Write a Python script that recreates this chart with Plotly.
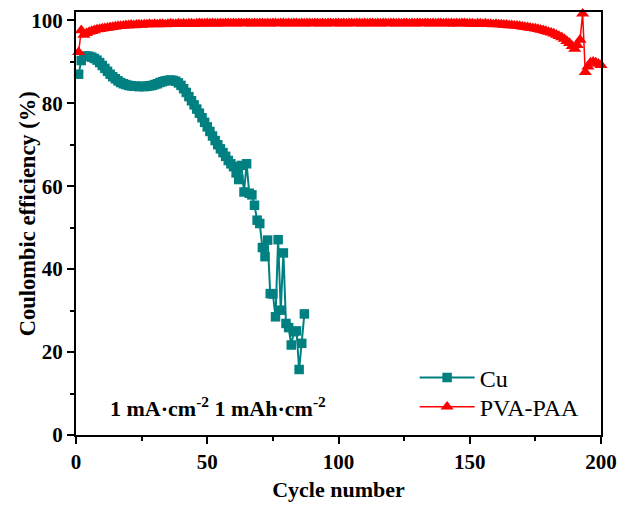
import plotly.graph_objects as go

# ---- data ----
cu_cycles = list(range(1, 88))
cu_ce = [
    87.0, 90.3, 91.3, 91.4, 91.3, 91.1, 90.8, 90.4, 89.8, 89.1,
    88.4, 87.7, 87.0, 86.4, 85.9, 85.4, 85.0, 84.7, 84.5, 84.3,
    84.2, 84.1, 84.1, 84.0, 84.1, 84.0, 84.1, 84.2, 84.3, 84.5,
    84.7, 85.0, 85.2, 85.4, 85.5, 85.6, 85.5, 85.3, 84.9, 84.3,
    83.5, 82.6, 81.6, 80.6, 79.6, 78.6, 77.6, 76.5, 75.4, 74.3,
    73.2, 72.1, 71.0, 70.0, 69.0, 68.1, 67.2, 66.2, 65.4, 64.7,
    63.2, 61.6, 65.0, 58.6, 65.4, 58.3, 57.9, 55.4, 51.8, 51.0,
    45.2, 43.0, 47.0, 34.1, 34.0, 28.5, 47.1, 30.1, 43.9, 26.9,
    25.9, 21.7, 24.9, 25.1, 15.8, 22.1, 29.2,
]

pva_cycles = list(range(1, 201))
pva_ce = [
    92.3, 97.6, 96.5, 96.9, 97.2, 97.4, 97.6, 97.8, 97.9, 98.0,
    98.1, 98.2, 98.3, 98.4, 98.5, 98.6, 98.6, 98.7, 98.8, 98.8,
    98.9, 98.8, 98.9, 99.0, 98.9, 99.0, 99.0, 99.1, 99.0, 99.1,
    99.0, 99.1, 99.1, 99.0, 99.1, 99.2, 99.1, 99.1, 99.2, 99.1,
    99.2, 99.1, 99.2, 99.2, 99.1, 99.2, 99.3, 99.2, 99.2, 99.3,
    99.2, 99.3, 99.2, 99.2, 99.3, 99.2, 99.3, 99.3, 99.2, 99.3,
    99.2, 99.3, 99.3, 99.2, 99.3, 99.3, 99.2, 99.3, 99.2, 99.3,
    99.3, 99.2, 99.3, 99.2, 99.3, 99.3, 99.2, 99.3, 99.3, 99.2,
    99.3, 99.2, 99.3, 99.3, 99.2, 99.3, 99.2, 99.3, 99.3, 99.2,
    99.3, 99.3, 99.2, 99.3, 99.2, 99.3, 99.3, 99.2, 99.3, 99.3,
    99.2, 99.3, 99.2, 99.3, 99.3, 99.2, 99.3, 99.3, 99.2, 99.3,
    99.2, 99.3, 99.3, 99.2, 99.3, 99.2, 99.3, 99.3, 99.2, 99.3,
    99.3, 99.2, 99.3, 99.2, 99.3, 99.3, 99.2, 99.3, 99.2, 99.3,
    99.3, 99.2, 99.3, 99.3, 99.2, 99.3, 99.2, 99.3, 99.3, 99.2,
    99.3, 99.2, 99.3, 99.2, 99.3, 99.2, 99.3, 99.3, 99.2, 99.2,
    99.2, 99.1, 99.2, 99.2, 99.1, 99.2, 99.1, 99.1, 99.0, 99.1,
    99.0, 99.0, 98.9, 98.9, 98.8, 98.8, 98.7, 98.7, 98.6, 98.5,
    98.4, 98.3, 98.2, 98.1, 98.0, 97.9, 97.7, 97.6, 97.4, 97.2,
    97.0, 96.8, 96.5, 96.2, 95.9, 95.5, 95.0, 94.5, 93.8, 93.1,
    94.0, 95.3, 101.6, 87.5, 88.8, 89.8, 90.0, 89.8, 89.5, 89.2,
]

x_ticks = [0, 50, 100, 150, 200]
y_ticks = [0, 20, 40, 60, 80, 100]

FONT = "Liberation Serif"
TEAL = "#008080"
RED = "#FF0000"

fig = go.Figure()
fig.add_trace(go.Scatter(
    x=cu_cycles, y=cu_ce, name="Cu", mode="lines+markers",
    line=dict(color=TEAL, width=2),
    marker=dict(symbol="square", size=9.5, color=TEAL, line=dict(width=0)),
    cliponaxis=False, legend="legend",
))
fig.add_trace(go.Scatter(
    x=pva_cycles, y=pva_ce, name="PVA-PAA", mode="lines+markers",
    line=dict(color=RED, width=1.5),
    marker=dict(symbol="triangle-up", size=11.5, color=RED, line=dict(width=0)),
    cliponaxis=False, legend="legend2",
))

axis_common = dict(
    showline=True, linecolor="black", linewidth=2, mirror=True,
    ticks="outside", ticklen=7, tickwidth=2, tickcolor="black",
    showgrid=False, zeroline=False, automargin=False,
    tickfont=dict(family=FONT, size=21, color="black", weight="bold"),
)

fig.update_xaxes(
    range=[0, 200], tickvals=x_ticks,
    minor=dict(ticks="outside", ticklen=4, tickwidth=2, tickcolor="black", dtick=25, tick0=0),
    title=dict(text="<b>Cycle number</b>", font=dict(family=FONT, size=22, color="black"), standoff=8),
    **axis_common,
)
fig.update_yaxes(
    range=[0, 102], tickvals=y_ticks,
    minor=dict(ticks="outside", ticklen=4, tickwidth=2, tickcolor="black", dtick=10, tick0=0),
    **axis_common,
)

# y-axis title placed as rotated text (sits closer to the axis than plotly's title)
fig.add_annotation(
    x=-0.0933, y=0.522, xref="paper", yref="paper",
    text="<b>Coulombic efficiency (%)</b>", textangle=-90,
    showarrow=False, font=dict(family=FONT, size=22.5, color="black"),
    xanchor="center", yanchor="middle",
)

fig.add_annotation(
    x=0.27, y=0.066, xref="paper", yref="paper",
    text="<b>1 mA·cm<sup>-2</sup> 1 mAh·cm<sup>-2</sup></b>",
    showarrow=False, font=dict(family=FONT, size=22, color="black"),
    xanchor="center", yanchor="middle",
)

legend_common = dict(
    xanchor="left", yanchor="middle",
    bgcolor="rgba(0,0,0,0)", borderwidth=0,
    font=dict(family=FONT, size=24, color="black"),
    itemwidth=55,
)

fig.update_layout(
    width=621, height=509,
    margin=dict(l=76, r=20, t=12, b=74),
    paper_bgcolor="white", plot_bgcolor="white",
    showlegend=True,
    legend=dict(x=0.645, y=0.135, **legend_common),
    legend2=dict(x=0.645, y=0.066, **legend_common),
)

fig.write_html("out.html")
